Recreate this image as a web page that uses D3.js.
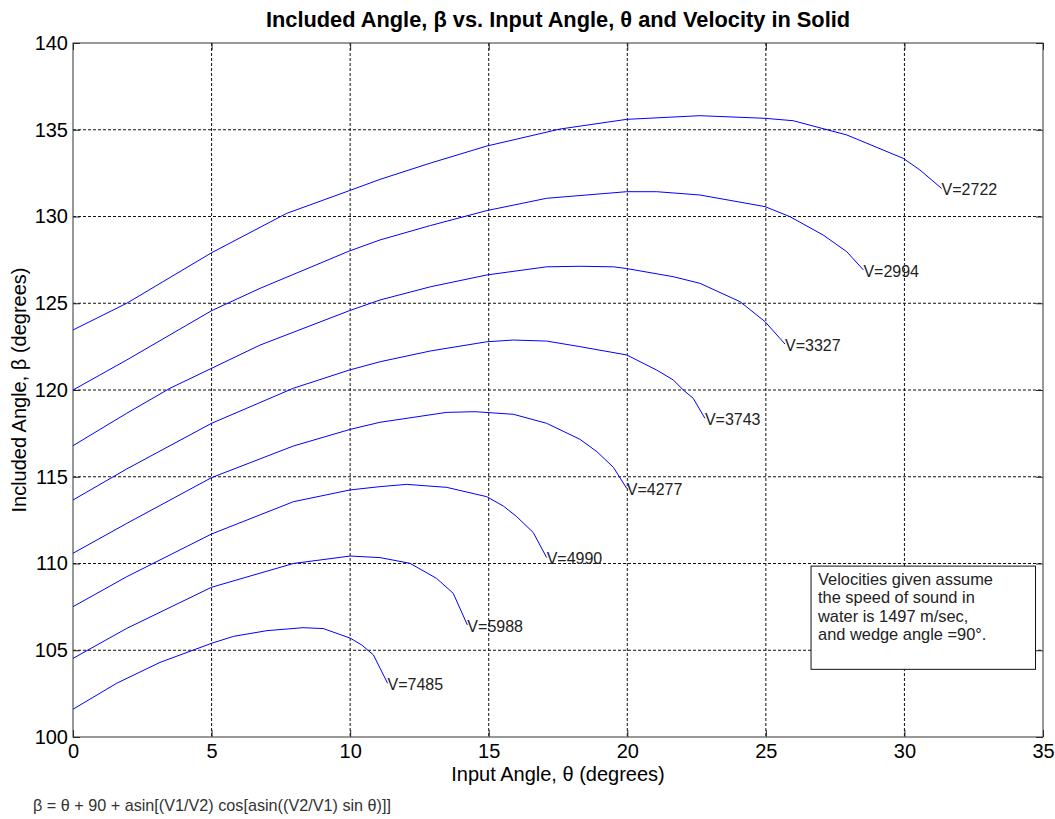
<!DOCTYPE html>
<html lang="en">
<head>
    <meta charset="UTF-8">
    <script src="https://d3js.org/d3.v7.min.js" charset="utf-8"></script>
    <title>Included Angle vs Input Angle</title>
    <style>
        body { margin: 0; background: white; }
        svg { font-family: "Liberation Sans", Arial, sans-serif; }
        .grid line { stroke: #111; stroke-dasharray: 3,2; stroke-width: 1; }
        .axis text { font-size: 20px; fill: #000; }
        .axis line { stroke: #222; }
    </style>
</head>
<body>
    <div class="fig"></div>

    <script>
        // velocities in the solid (m/s), one curve each
        const velocities = [2722, 2994, 3327, 3743, 4277, 4990, 5988, 7485];

        // input angle (deg) and included angle (deg)
        const theta2722 = [0, 1.94, 5, 7.71, 9.97, 11.08, 12.9, 14.93, 17.57, 19.98, 22.62, 24.97, 25.99, 27.92, 29.96, 30.56, 31.34];
        const beta2722  = [123.46, 125.0, 127.91, 130.18, 131.49, 132.14, 133.08, 134.06, 135.04, 135.6, 135.81, 135.66, 135.52, 134.7, 133.35, 132.68, 131.62];

        const theta2994 = [0, 1.94, 5, 6.75, 9.97, 11.08, 12.9, 14.93, 17.09, 19.98, 21.06, 22.62, 24.97, 25.87, 27.07, 27.92, 28.52];
        const beta2994  = [120.0, 121.73, 124.57, 125.86, 128.01, 128.65, 129.48, 130.34, 131.05, 131.43, 131.43, 131.24, 130.57, 129.99, 128.93, 127.97, 126.92];

        const theta3327 = [0, 1.94, 3.5, 5, 6.75, 9.97, 11.08, 12.9, 14.93, 17.09, 18.29, 19.5, 19.98, 21.66, 22.62, 24.07, 24.97, 25.69];
        const beta3327  = [116.79, 118.66, 120.1, 121.25, 122.59, 124.57, 125.19, 125.95, 126.63, 127.1, 127.13, 127.1, 127.0, 126.53, 126.15, 125.09, 123.94, 122.65];

        const theta3743 = [0, 1.94, 5, 7.95, 9.97, 11.08, 12.9, 14.93, 15.89, 17.09, 18.29, 19.98, 21.06, 21.66, 22.02, 22.38, 22.8];
        const beta3743  = [113.66, 115.45, 118.08, 120.1, 121.15, 121.63, 122.25, 122.78, 122.88, 122.82, 122.5, 122.02, 121.15, 120.58, 120.0, 119.52, 118.37];

        const theta4277 = [0, 1.94, 5, 7.95, 10, 11.08, 13.48, 14.5, 15.89, 17.09, 18.29, 18.9, 19.5, 19.98];
        const beta4277  = [110.59, 112.31, 114.95, 116.77, 117.73, 118.14, 118.71, 118.75, 118.6, 118.08, 117.16, 116.45, 115.54, 114.33];

        const theta4990 = [0, 1.94, 5, 7.95, 10, 11.08, 12.04, 13.48, 14.93, 15.53, 16.01, 16.61, 17.09];
        const beta4990  = [107.51, 109.24, 111.7, 113.56, 114.24, 114.43, 114.56, 114.39, 113.85, 113.31, 112.7, 111.78, 110.34];

        const theta5988 = [0, 1.94, 5, 7.95, 10, 11.08, 12.16, 13.12, 13.72, 14.23];
        const beta5988  = [104.53, 106.26, 108.63, 110.0, 110.43, 110.34, 110.01, 109.14, 108.28, 106.46];

        const theta7485 = [0, 1.58, 3.14, 5, 5.79, 7, 8.3, 9.03, 10, 10.42, 10.84, 11.35];
        const beta7485  = [101.6, 103.1, 104.3, 105.4, 105.8, 106.13, 106.3, 106.25, 105.7, 105.3, 104.73, 103.1];

        const xTicks = [0, 5, 10, 15, 20, 25, 30, 35];
        const yTicks = [100, 105, 110, 115, 120, 125, 130, 135, 140];

        const noteLines = ["Velocities given assume", "the speed of sound in", "water is 1497 m/sec,", "and wedge angle =90\u00b0."];

        const curves = {
            2722: [theta2722, beta2722],
            2994: [theta2994, beta2994],
            3327: [theta3327, beta3327],
            3743: [theta3743, beta3743],
            4277: [theta4277, beta4277],
            4990: [theta4990, beta4990],
            5988: [theta5988, beta5988],
            7485: [theta7485, beta7485]
        };

        const svgWidth = 1055;
        const svgHeight = 819;
        const margin = {left: 73, right: 12, top: 43, bottom: 82};
        const width = svgWidth - margin.left - margin.right;
        const height = svgHeight - margin.top - margin.bottom;

        const svg = d3.select(".fig").append("svg")
            .attr("width", svgWidth)
            .attr("height", svgHeight);

        const g = svg.append("g")
            .attr("transform", `translate(${margin.left},${margin.top})`);

        const x = d3.scaleLinear().domain([0, 35]).range([0, width]);
        const y = d3.scaleLinear().domain([100, 140]).range([height, 0]);

        // dashed grid
        g.append("g").attr("class", "grid")
            .selectAll("line")
            .data(xTicks.slice(1, -1))
            .enter().append("line")
            .attr("x1", d => x(d)).attr("x2", d => x(d))
            .attr("y1", 0).attr("y2", height);
        g.append("g").attr("class", "grid")
            .selectAll("line")
            .data(yTicks.slice(1, -1))
            .enter().append("line")
            .attr("x1", 0).attr("x2", width)
            .attr("y1", d => y(d)).attr("y2", d => y(d));

        // axes with inward ticks
        const bottom = g.append("g").attr("class", "axis")
            .attr("transform", `translate(0,${height})`)
            .call(d3.axisBottom(x).tickValues(xTicks).tickSizeInner(-7).tickSizeOuter(0).tickPadding(7).tickFormat(d3.format("d")));
        const left = g.append("g").attr("class", "axis")
            .call(d3.axisLeft(y).tickValues(yTicks).tickSizeInner(-7).tickSizeOuter(0).tickPadding(5).tickFormat(d3.format("d")));
        g.append("g").attr("class", "axis")
            .call(d3.axisTop(x).tickValues(xTicks).tickSizeInner(-7).tickSizeOuter(0).tickFormat(""));
        g.append("g").attr("class", "axis")
            .attr("transform", `translate(${width},0)`)
            .call(d3.axisRight(y).tickValues(yTicks).tickSizeInner(-7).tickSizeOuter(0).tickFormat(""));
        g.selectAll(".axis .domain").remove();
        svg.selectAll(".axis").attr("font-family", null).attr("font-size", null);

        // frame
        g.append("rect")
            .attr("x", 0).attr("y", 0)
            .attr("width", width).attr("height", height)
            .attr("fill", "none")
            .attr("stroke", "#333")
            .attr("stroke-width", 1);

        // curves
        const line = d3.line()
            .x(d => x(d[0]))
            .y(d => y(d[1]));

        velocities.forEach(v => {
            const [th, be] = curves[v];
            const pts = th.map((t, i) => [t, be[i]]);
            g.append("path")
                .datum(pts)
                .attr("fill", "none")
                .attr("stroke", "#0000ff")
                .attr("stroke-width", 1)
                .attr("d", line);
            const last = pts[pts.length - 1];
            g.append("text")
                .attr("x", x(last[0]))
                .attr("y", y(last[1]))
                .attr("dy", "0.42em")
                .attr("font-size", 16)
                .attr("fill", "#222")
                .text(`V=${v}`);
        });

        // note box
        const boxX0 = 26.63, boxX1 = 34.73, boxY0 = 109.85, boxY1 = 103.9;
        g.append("rect")
            .attr("x", x(boxX0)).attr("y", y(boxY0))
            .attr("width", x(boxX1) - x(boxX0))
            .attr("height", y(boxY1) - y(boxY0))
            .attr("fill", "white")
            .attr("stroke", "#111")
            .attr("stroke-width", 1);
        g.append("g").selectAll("text")
            .data(noteLines)
            .enter().append("text")
            .attr("x", x(boxX0) + 7)
            .attr("y", (d, i) => y(boxY0) + 19 + i * 18.3)
            .attr("font-size", 16.4)
            .attr("fill", "#222")
            .text(d => d);

        // titles
        svg.append("text")
            .attr("x", margin.left + width / 2)
            .attr("y", 27)
            .attr("text-anchor", "middle")
            .attr("font-size", 21.8)
            .attr("font-weight", "bold")
            .text("Included Angle, \u03b2 vs. Input Angle, \u03b8 and Velocity in Solid");

        svg.append("text")
            .attr("x", margin.left + width / 2)
            .attr("y", 781)
            .attr("text-anchor", "middle")
            .attr("font-size", 20)
            .text("Input Angle, \u03b8 (degrees)");

        svg.append("text")
            .attr("transform", `translate(26,${margin.top + height / 2}) rotate(-90)`)
            .attr("text-anchor", "middle")
            .attr("font-size", 20)
            .text("Included Angle, \u03b2 (degrees)");

        svg.append("text")
            .attr("x", 33)
            .attr("y", 811)
            .attr("font-size", 16.2)
            .attr("fill", "#333")
            .text("\u03b2 = \u03b8 + 90 + asin[(V1/V2) cos[asin((V2/V1) sin \u03b8)]]");
    </script>
</body>
</html>
